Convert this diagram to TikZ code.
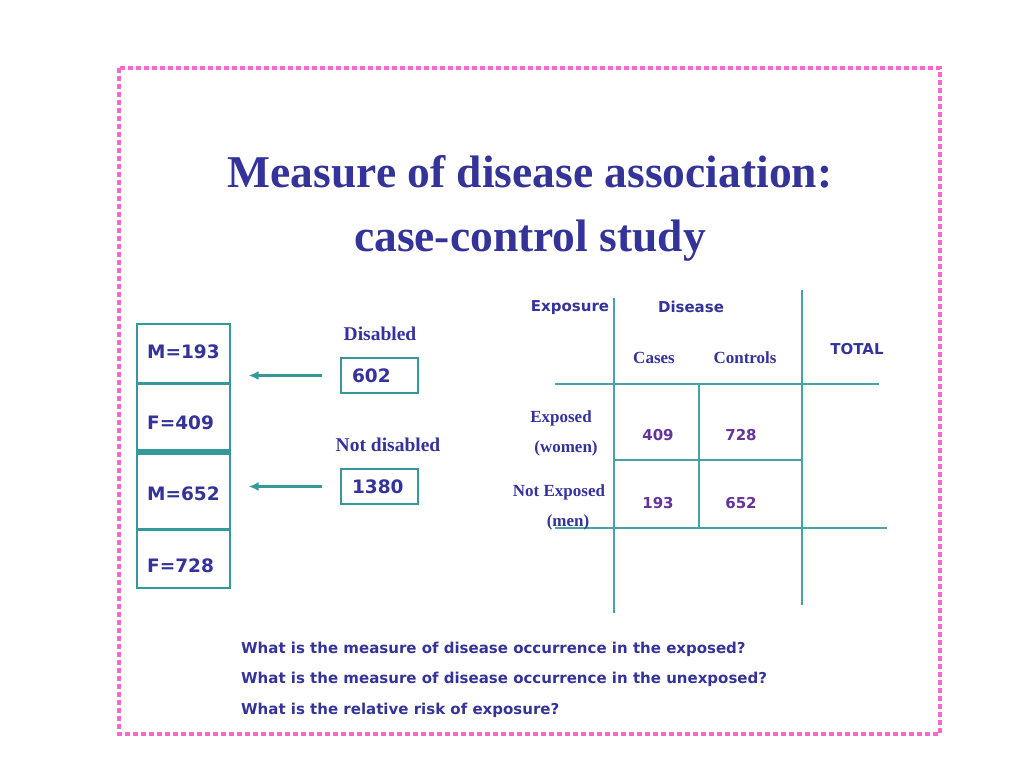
\documentclass[tikz,border=0pt]{standalone}
\usepackage{fontspec}
\setmainfont{Liberation Serif}
\newfontfamily\labelfont{DejaVu Sans}
\usepackage{tikz}
\usetikzlibrary{positioning, arrows.meta}
\definecolor{titleblue}{RGB}{51,51,153}
\definecolor{tealline}{RGB}{51,153,153}
\definecolor{cellpurple}{RGB}{102,51,153}
\definecolor{borderpink}{RGB}{255,102,204}

\begin{document}
\begin{tikzpicture}[
        x=1pt, y=-1pt,
        every node/.style={inner sep=0pt, text=titleblue},
        title/.style={font=\fontsize{45.5}{50}\selectfont\bfseries, anchor=base},
        sanslabel/.style={font=\labelfont\fontsize{15}{18}\selectfont\bfseries},
        stacklabel/.style={font=\labelfont\fontsize{18.5}{22}\selectfont\bfseries, anchor=west},
        seriflabel/.style={font=\fontsize{17}{20}\selectfont\bfseries},
        countlabel/.style={font=\fontsize{19.5}{22}\selectfont\bfseries},
        valuebox/.style={draw=tealline, line width=1.2pt, minimum width=77pt, minimum height=35pt,
            font=\labelfont\fontsize{18.5}{22}\selectfont\bfseries, text width=55pt, align=left},
        cell/.style={sanslabel, text=cellpurple},
        question/.style={sanslabel, anchor=west},
        gridline/.style={draw=tealline!90, line width=1.2pt},
        link/.style={-{Latex[length=10pt,width=9pt]}, draw=tealline, line width=3pt,
            shorten <=18pt, shorten >=18pt}
    ]
    \useasboundingbox (0,0) rectangle (1024,768);

    % Frame
    \draw[borderpink, line width=3.5pt, dash pattern=on 5pt off 3pt] (119,68) rectangle (940,734);

    % Title
    \node[title] (title1) at (530,187) {Measure of disease association:};
    \node[title] (title2) at (530,251) {case-control study};

    % Stack of counts
    \node[draw=tealline, line width=1.2pt, minimum width=93pt, minimum height=264pt] (stack) at (183.5,456) {};
    \draw[tealline, line width=3pt] (stack.west |- 0,383) -- (stack.east |- 0,383);
    \draw[tealline, line width=6.5pt] (stack.west |- 0,452) -- (stack.east |- 0,452);
    \draw[tealline, line width=3pt] (stack.west |- 0,529) -- (stack.east |- 0,529);
    \node[stacklabel] (m193) at (147,352) {M=193};
    \node[stacklabel] (f409) at (147,423) {F=409};
    \node[stacklabel] (m652) at (147,494) {M=652};
    \node[stacklabel] (f728) at (147,566) {F=728};

    % Totals
    \node[countlabel] (disabled) at (380,334) {Disabled};
    \node[valuebox] (val602) at (379.5,375.5) {602};
    \node[countlabel] (notdisabled) at (388,445) {Not disabled};
    \node[valuebox] (val1380) at (379.5,486.5) {1380};

    % Arrows
    \draw[link] (val602.west) -- (val602.west -| stack.east);
    \draw[link] (val1380.west) -- (val1380.west -| stack.east);

    % Table lines
    \draw[gridline] (614,298) -- (614,613);
    \draw[gridline] (802,290) -- (802,605);
    \draw[gridline] (699,384) -- (699,528);
    \draw[gridline] (555,384) -- (879,384);
    \draw[gridline] (614,460) -- (802,460);
    \draw[gridline] (555,528) -- (887,528);

    % Table headers
    \node[sanslabel] (exposure) at (570,308) {Exposure};
    \node[sanslabel] (disease) at (691,307) {Disease};
    \node[seriflabel] (cases) at (654,358) {Cases};
    \node[seriflabel] (controls) at (745,358) {Controls};
    \node[sanslabel] (total) at (857,349) {TOTAL};
    \node[seriflabel] (exposed) at (561,418) {Exposed};
    \node[seriflabel] (women) at (566,448) {(women)};
    \node[seriflabel] (notexposed) at (559,492) {Not Exposed};
    \node[seriflabel] (men) at (568,522) {(men)};

    % Table cells
    \node[cell] (c409) at (658,435) {409};
    \node[cell] (c728) at (741,435) {728};
    \node[cell] (c193) at (658,503) {193};
    \node[cell] (c652) at (741,503) {652};

    % Questions
    \node[question] (q1) at (241,649) {What is the measure of disease occurrence in the exposed?};
    \node[question] (q2) at (241,679) {What is the measure of disease occurrence in the unexposed?};
    \node[question] (q3) at (241,710) {What is the relative risk of exposure?};

\end{tikzpicture}
\end{document}
